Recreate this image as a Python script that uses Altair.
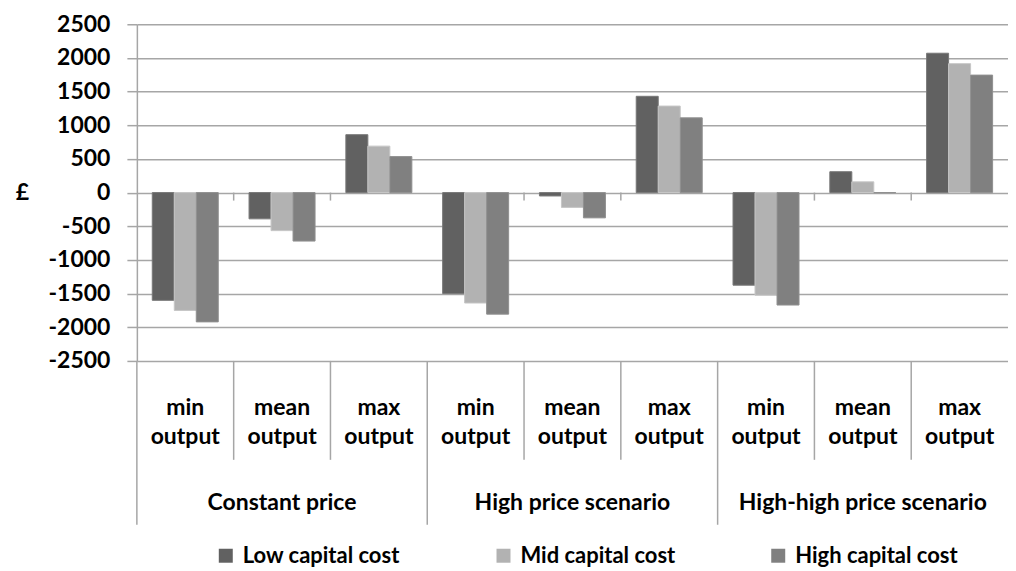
import altair as alt
import pandas as pd

groups = ["Constant price", "High price scenario", "High-high price scenario"]
outputs = ["min output", "mean output", "max output"]
series = ["Low capital cost", "Mid capital cost", "High capital cost"]
low_cost = [-1600, -390, 860, -1500, -50, 1430, -1375, 310, 2070]
mid_cost = [-1750, -565, 690, -1640, -220, 1285, -1525, 160, 1915]
high_cost = [-1920, -720, 535, -1805, -375, 1110, -1670, 0, 1745]
fill_colors = ["#616161", "#b2b2b2", "#808080"]
stroke_colors = ["#777777", "#c6c6c6", "#909090"]
y_ticks = list(range(-2500, 2501, 500))

FONT = "Lato"
GRID = "#a6a6a6"
W, H = 872, 337

cats = [f"{g}|{o}" for g in groups for o in outputs]
rows = []
for s, vals in zip(series, [low_cost, mid_cost, high_cost]):
    for c, v in zip(cats, vals):
        rows.append({"cat": c, "series": s, "value": v})
bars_df = pd.DataFrame(rows)

cat_df = pd.DataFrame({
    "cat": cats,
    "label": [o for g in groups for o in outputs],
    "first": [j == 0 for g in groups for j in range(len(outputs))],
})
inner_df = cat_df[~cat_df["first"]]
group_start_df = cat_df[cat_df["first"]]
grp_df = pd.DataFrame({"cat": [f"{g}|{outputs[1]}" for g in groups], "label": groups})

x_scale = alt.Scale(domain=cats, paddingInner=0, paddingOuter=0)
y_scale = alt.Scale(domain=[-2500, 2500], nice=False, zero=False)
y_axis = alt.Axis(values=y_ticks, grid=True, gridColor=GRID, gridWidth=1.5,
                  domainColor=GRID, domainWidth=1.5, tickColor=GRID, tickWidth=1.5,
                  tickSize=10, labelFont=FONT, labelFontSize=23, labelFontWeight="bold",
                  labelColor="black", labelPadding=17, labelOverlap=False,
                  labelExpr="toString(datum.value)",
                  title="£", titleAngle=0, titleX=-115, titleY=168,
                  titleAlign="center", titleBaseline="middle", titleFont=FONT,
                  titleFontSize=23, titleFontWeight="bold", titleColor="black")
x_enc = alt.X("cat:N", scale=x_scale, axis=None)
x_edge = alt.X("cat:N", scale=x_scale, axis=None, bandPosition=0)

bars = alt.Chart(bars_df).mark_bar(strokeWidth=1).encode(
    x=x_enc,
    xOffset=alt.XOffset("series:N", sort=series,
                        scale=alt.Scale(domain=series, paddingInner=0, paddingOuter=0.7)),
    y=alt.Y("value:Q", scale=y_scale, axis=y_axis),
    color=alt.Color("series:N", sort=series,
                    scale=alt.Scale(domain=series, range=fill_colors),
                    legend=alt.Legend(title=None, orient="none", legendX=78, legendY=521,
                                      direction="horizontal", symbolType="square",
                                      symbolSize=196, symbolStrokeWidth=0,
                                      labelFont=FONT, labelFontSize=22, labelFontWeight="bold",
                                      labelColor="black", labelOffset=6, columnPadding=92,
                                      labelLimit=400)),
    stroke=alt.Stroke("series:N", sort=series,
                      scale=alt.Scale(domain=series, range=stroke_colors), legend=None),
)

zero_ticks = alt.Chart(inner_df).mark_rule(color=GRID, strokeWidth=1.5, y2Offset=8).encode(
    x=x_edge,
    y=alt.Y(datum=0, scale=y_scale, axis=y_axis),
    y2=alt.Y2(datum=0),
)

inner_seps = alt.Chart(inner_df).mark_rule(color=GRID, strokeWidth=1.5).encode(
    x=x_edge, y=alt.value(H), y2=alt.value(H + 99)
)
group_seps = alt.Chart(group_start_df).mark_rule(color=GRID, strokeWidth=1.5).encode(
    x=x_edge, y=alt.value(H), y2=alt.value(H + 164)
)

cat_text = alt.Chart(cat_df).mark_text(
    lineBreak=" ", lineHeight=29, font=FONT, fontSize=23, fontWeight="bold",
    color="black", baseline="middle", align="center"
).encode(x=x_enc, y=alt.value(H + 47), text="label:N")

grp_text = alt.Chart(grp_df).mark_text(
    font=FONT, fontSize=23, fontWeight="bold", color="black",
    baseline="middle", align="center"
).encode(x=x_enc, y=alt.value(H + 142), text="label:N")

chart = alt.layer(bars, zero_ticks, inner_seps, group_seps, cat_text, grp_text).properties(
    width=W, height=H,
    autosize=alt.AutoSizeParams(type="none"),
    padding={"left": 129, "top": 16, "right": 0, "bottom": 211},
).configure_view(stroke=None).resolve_scale(stroke="independent")

chart.save("out.html", embed_options={"renderer": "svg", "actions": False})
